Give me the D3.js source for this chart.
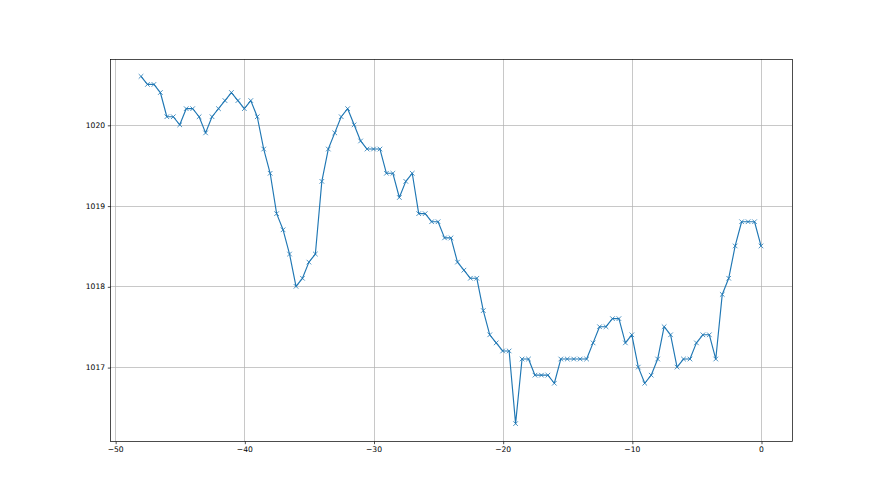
<!DOCTYPE html>
<html><head><meta charset="utf-8">
<script src="https://cdn.jsdelivr.net/npm/d3@7"></script>
<style>body{margin:0;background:#fff}svg{display:block}</style>
</head><body><svg id="c" width="880" height="495"></svg>
<script>
const xValues = [-48,-47.5,-47,-46.5,-46,-45.5,-45,-44.5,-44,-43.5,-43,-42.5,-42,-41.5,-41,-40.5,-40,-39.5,-39,-38.5,-38,-37.5,-37,-36.5,-36,-35.5,-35,-34.5,-34,-33.5,-33,-32.5,-32,-31.5,-31,-30.5,-30,-29.5,-29,-28.5,-28,-27.5,-27,-26.5,-26,-25.5,-25,-24.5,-24,-23.5,-23,-22.5,-22,-21.5,-21,-20.5,-20,-19.5,-19,-18.5,-18,-17.5,-17,-16.5,-16,-15.5,-15,-14.5,-14,-13.5,-13,-12.5,-12,-11.5,-11,-10.5,-10,-9.5,-9,-8.5,-8,-7.5,-7,-6.5,-6,-5.5,-5,-4.5,-4,-3.5,-3,-2.5,-2,-1.5,-1,-0.5,0];
const pressure = [1020.6,1020.5,1020.5,1020.4,1020.1,1020.1,1020.0,1020.2,1020.2,1020.1,1019.9,1020.1,1020.2,1020.3,1020.4,1020.3,1020.2,1020.3,1020.1,1019.7,1019.4,1018.9,1018.7,1018.4,1018.0,1018.1,1018.3,1018.4,1019.3,1019.7,1019.9,1020.1,1020.2,1020.0,1019.8,1019.7,1019.7,1019.7,1019.4,1019.4,1019.1,1019.3,1019.4,1018.9,1018.9,1018.8,1018.8,1018.6,1018.6,1018.3,1018.2,1018.1,1018.1,1017.7,1017.4,1017.3,1017.2,1017.2,1016.3,1017.1,1017.1,1016.9,1016.9,1016.9,1016.8,1017.1,1017.1,1017.1,1017.1,1017.1,1017.3,1017.5,1017.5,1017.6,1017.6,1017.3,1017.4,1017.0,1016.8,1016.9,1017.1,1017.5,1017.4,1017.0,1017.1,1017.1,1017.3,1017.4,1017.4,1017.1,1017.9,1018.1,1018.5,1018.8,1018.8,1018.8,1018.5];
const xTicks = [-50,-40,-30,-20,-10,0];
const yTicks = [1017,1018,1019,1020];

const L=110, R=792, T=59, B=441;
const svg = d3.select("#c");
const xExt = d3.extent(xValues), yExt = d3.extent(pressure);
const xp = (xExt[1]-xExt[0])*0.05, yp = (yExt[1]-yExt[0])*0.05;
const x = d3.scaleLinear().domain([xExt[0]-xp, xExt[1]+xp]).range([L,R]);
const y = d3.scaleLinear().domain([yExt[0]-yp, yExt[1]+yp]).range([B,T]);

const g = svg.append("g");
g.selectAll(".gx").data(xTicks).enter().append("line")
 .attr("x1",d=>Math.round(x(d))+0.5).attr("x2",d=>Math.round(x(d))+0.5).attr("y1",T).attr("y2",B)
 .attr("stroke","#b0b0b0").attr("stroke-width",0.7);
g.selectAll(".gy").data(yTicks).enter().append("line")
 .attr("y1",d=>Math.round(y(d))+0.5).attr("y2",d=>Math.round(y(d))+0.5).attr("x1",L).attr("x2",R)
 .attr("stroke","#b0b0b0").attr("stroke-width",0.7);

const xa = svg.append("g").attr("transform",`translate(0,${B+0.5})`)
 .call(d3.axisBottom(x).tickValues(xTicks).tickSize(2.7).tickPadding(2.7).tickFormat(d3.format("d")));
const ya = svg.append("g").attr("transform",`translate(${L+0.5},0)`)
 .call(d3.axisLeft(y).tickValues(yTicks).tickSize(2.7).tickPadding(2.7).tickFormat(d3.format("d")));
[xa,ya].forEach(a=>{a.select(".domain").remove();a.selectAll("line").attr("stroke","#000").attr("stroke-width",0.7);
 a.selectAll("text").attr("font-family","DejaVu Sans").attr("font-size",7.6).attr("fill","#000");});
xa.selectAll("text").text(d=>d<0?"\u2212"+Math.abs(d):d);
xa.selectAll(".tick line").attr("transform","translate(0.5,0)");
ya.selectAll(".tick line").attr("transform","translate(0,0.5)");

const data = xValues.map((v,i)=>[v,pressure[i]]);
svg.append("path").datum(data).attr("fill","none").attr("stroke","#1f77b4").attr("stroke-width",1.15)
 .attr("stroke-linejoin","round")
 .attr("d",d3.line().x(d=>x(d[0])).y(d=>y(d[1])));
const s=2.3;
svg.append("g").selectAll("path").data(data).enter().append("path")
 .attr("d",d=>{const cx=x(d[0]),cy=y(d[1]);return `M${cx-s},${cy-s}L${cx+s},${cy+s}M${cx-s},${cy+s}L${cx+s},${cy-s}`;})
 .attr("stroke","#1f77b4").attr("stroke-width",0.8).attr("fill","none");

svg.append("rect").attr("x",L+0.5).attr("y",T+0.5).attr("width",R-L).attr("height",B-T)
 .attr("fill","none").attr("stroke","#000").attr("stroke-width",0.7);
</script></body></html>
